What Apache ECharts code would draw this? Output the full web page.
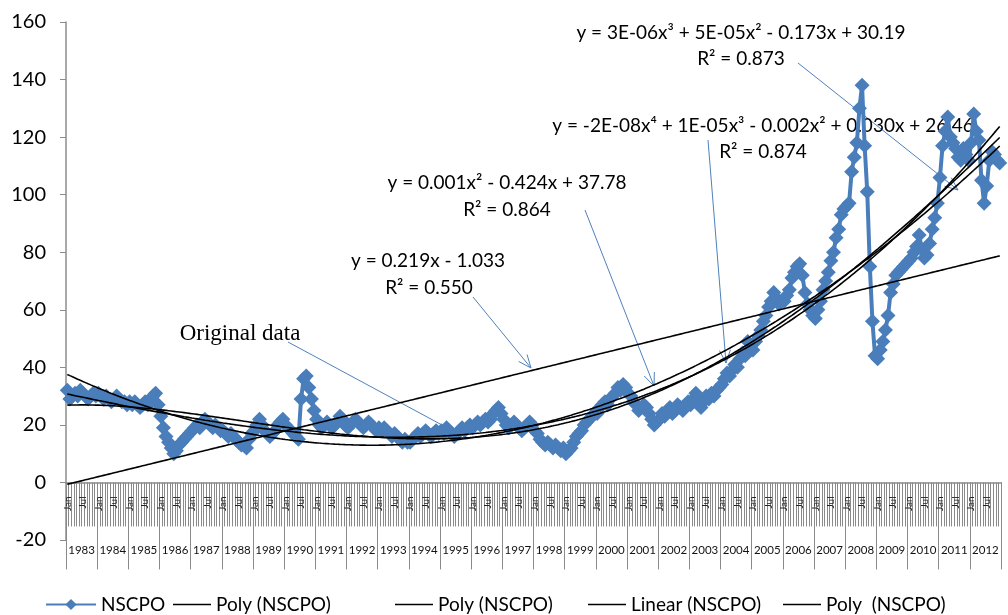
<!DOCTYPE html>
<html>
<head>
<meta charset="utf-8">
<title>NSCPO trend lines</title>
<script src="https://cdn.jsdelivr.net/npm/echarts@6/dist/echarts.min.js"></script>
<style>
  html, body { margin: 0; padding: 0; background: #fff; }
  #chart { width: 1008px; height: 615px; }
</style>
</head>
<body>
<div id="chart"></div>
<script>
// category labels
const years = ['1983', '1984', '1985', '1986', '1987', '1988', '1989', '1990', '1991', '1992',
  '1993', '1994', '1995', '1996', '1997', '1998', '1999', '2000', '2001', '2002',
  '2003', '2004', '2005', '2006', '2007', '2008', '2009', '2010', '2011', '2012']
const monthNames = ['Jan', 'Feb', 'Mar', 'Apr', 'May', 'Jun', 'Jul', 'Aug', 'Sep', 'Oct', 'Nov', 'Dec']

// monthly NSCPO values (Jan..Dec per row)
const nscpo1983to1987 = [
  32, 29, 30, 31, 30, 32, 31, 30, 29, 30, 31, 30,
  31, 30, 29, 30, 29, 28, 29, 30, 29, 28, 28, 27,
  28, 27, 28, 27, 26, 27, 28, 27, 28, 30, 31, 27,
  23, 19, 16, 14, 12, 10, 11, 13, 14, 15, 16, 17,
  18, 19, 20, 19, 21, 22, 21, 20, 19, 20, 19, 18
]
const nscpo1988to1992 = [
  18, 17, 16, 17, 16, 15, 14, 13, 13, 12, 15, 17,
  18, 20, 22, 20, 18, 17, 16, 17, 18, 20, 21, 22,
  20, 19, 18, 17, 16, 15, 29, 36, 37, 33, 29, 25,
  22, 20, 19, 20, 21, 20, 19, 20, 21, 23, 22, 20,
  19, 20, 21, 22, 21, 20, 19, 20, 21, 20, 19, 18
]
const nscpo1993to1997 = [
  19, 18, 19, 18, 17, 16, 17, 16, 15, 14, 15, 14,
  14, 15, 16, 17, 16, 17, 18, 17, 16, 17, 18, 17,
  18, 17, 19, 18, 17, 16, 17, 18, 19, 18, 19, 20,
  19, 20, 21, 20, 21, 22, 21, 22, 24, 25, 26, 24,
  22, 20, 19, 20, 21, 20, 19, 18, 19, 20, 21, 20
]
const nscpo1998to2002 = [
  18, 17, 15, 14, 13, 14, 13, 12, 13, 12, 11, 12,
  10, 11, 12, 14, 16, 17, 18, 20, 21, 22, 23, 24,
  24, 26, 27, 28, 27, 29, 30, 31, 33, 32, 34, 33,
  31, 30, 28, 27, 25, 26, 27, 26, 24, 22, 20, 21,
  22, 24, 23, 25, 26, 24, 25, 27, 26, 25, 27, 28
]
const nscpo2003to2007 = [
  27, 29, 31, 28, 26, 28, 30, 29, 31, 30, 32, 33,
  34, 36, 38, 37, 39, 41, 40, 43, 45, 44, 49, 46,
  46, 49, 51, 53, 56, 58, 61, 63, 66, 64, 62, 63,
  63, 65, 67, 71, 73, 75, 76, 72, 66, 62, 60, 58,
  57, 60, 63, 67, 70, 73, 77, 80, 85, 88, 93, 95
]
const nscpo2008to2012 = [
  96, 97, 108, 113, 118, 130, 138, 117, 101, 75, 56, 44,
  43, 46, 49, 53, 58, 66, 69, 72, 73, 74, 75, 76,
  77, 78, 80, 82, 86, 81, 78, 79, 83, 88, 92, 97,
  106, 117, 122, 127, 120, 118, 116, 113, 112, 116, 114, 112,
  118, 128, 122, 119, 105, 97, 103, 112, 115, 114, 112, 111
]

const categories = []
years.forEach(y => monthNames.forEach(m => categories.push(m + ' ' + y)))
const nscpo = [].concat(nscpo1983to1987, nscpo1988to1992, nscpo1993to1997,
  nscpo1998to2002, nscpo2003to2007, nscpo2008to2012)

// least squares polynomial trend line, x = 1..n like the spreadsheet does
function polyTrend(values, degree) {
  const n = values.length
  const m = degree + 1
  const A = Array.from({ length: m }, () => new Array(m + 1).fill(0))
  for (let i = 0; i < n; i++) {
    const t = (i + 1) / n
    const pw = [1]
    for (let k = 1; k < 2 * m; k++) pw.push(pw[k - 1] * t)
    for (let r = 0; r < m; r++) {
      for (let c = 0; c < m; c++) A[r][c] += pw[r + c]
      A[r][m] += pw[r] * values[i]
    }
  }
  for (let col = 0; col < m; col++) {
    let piv = col
    for (let r = col + 1; r < m; r++) {
      if (Math.abs(A[r][col]) > Math.abs(A[piv][col])) piv = r
    }
    const tmp = A[col]; A[col] = A[piv]; A[piv] = tmp
    for (let r = 0; r < m; r++) {
      if (r === col) continue
      const f = A[r][col] / A[col][col]
      for (let c = col; c <= m; c++) A[r][c] -= f * A[col][c]
    }
  }
  const coef = A.map((row, r) => row[m] / row[r])
  return values.map((v, i) => {
    const t = (i + 1) / n
    let y = 0
    for (let k = m - 1; k >= 0; k--) y = y * t + coef[k]
    return +y.toFixed(3)
  })
}

const blue = '#4A7EBB'
const arrowBlue = '#4F81BD'
const sans = 'Lato, "Noto Sans", sans-serif'

const yMin = -20
const yMax = 160
const yStep = 20
const gridTop = 22
const gridBottom = 75
const plotHeight = 615 - gridTop - gridBottom
// the category axes sit on the zero line, like the spreadsheet axis crossing
const zeroOffset = -plotHeight * (0 - yMin) / (yMax - yMin)

// annotation arrows
function arrow(x1, y1, x2, y2, head) {
  const els = [{
    type: 'line', silent: true,
    shape: { x1: x1, y1: y1, x2: x2, y2: y2 },
    style: { stroke: arrowBlue, lineWidth: 1 }
  }]
  if (head) {
    const a = Math.atan2(y2 - y1, x2 - x1)
    const len = 14, spread = 0.4
    els.push({
      type: 'polyline', silent: true,
      shape: {
        points: [
          [x2 - len * Math.cos(a - spread), y2 - len * Math.sin(a - spread)],
          [x2, y2],
          [x2 - len * Math.cos(a + spread), y2 - len * Math.sin(a + spread)]
        ]
      },
      style: { stroke: arrowBlue, fill: null, lineWidth: 1 }
    })
  }
  return els
}

function label(x, y, text, font) {
  return {
    type: 'text', silent: true, x: x, y: y,
    style: {
      text: text, font: font || ('19px ' + sans), fill: '#000',
      textAlign: 'center', textVerticalAlign: 'middle'
    }
  }
}

const chart = echarts.init(document.getElementById('chart'))

const trendLine = (name, data) => ({
  name: name,
  type: 'line',
  data: data,
  showSymbol: false,
  symbol: 'none',
  smooth: false,
  lineStyle: { color: '#000', width: 1.6 },
  itemStyle: { color: '#000' },
  z: 3
})

const legendItem = (name, left, isTrend) => ({
  data: [name],
  left: left,
  top: 590,
  icon: isTrend ? 'rect' : undefined,
  itemWidth: isTrend ? 38 : 50,
  itemHeight: isTrend ? 1.6 : 14,
  itemGap: 0,
  textStyle: { fontFamily: sans, fontSize: 19, color: '#000' },
  selectedMode: false
})

chart.setOption({
  animation: false,
  backgroundColor: '#fff',
  grid: { left: 66, right: 7, top: gridTop, bottom: gridBottom, containLabel: false, outerBoundsMode: 'none' },
  legend: [
    legendItem('NSCPO', 40, false),
    legendItem('Poly (NSCPO)', 168, true),
    legendItem('Poly (NSCPO) ', 390, true),
    legendItem('Linear (NSCPO)', 583, true),
    legendItem('Poly  (NSCPO)', 778, true)
  ],
  xAxis: [
    {
      type: 'category',
      position: 'bottom',
      offset: zeroOffset,
      data: categories,
      boundaryGap: true,
      axisLine: { onZero: false, lineStyle: { color: '#8c8c8c', width: 1.5 } },
      axisTick: { show: true, interval: 0, length: 44, lineStyle: { color: '#8a8a8a', width: 1 } },
      axisLabel: {
        interval: idx => idx % 6 === 0,
        formatter: v => v.split(' ')[0],
        rotate: 90,
        margin: 14,
        fontFamily: sans,
        fontSize: 10,
        color: '#222'
      },
      splitLine: { show: false }
    },
    {
      type: 'category',
      position: 'bottom',
      offset: zeroOffset,
      data: years,
      boundaryGap: true,
      axisLine: { show: false, onZero: false },
      axisTick: { show: true, interval: 0, length: 87, lineStyle: { color: '#8a8a8a', width: 1 } },
      axisLabel: { interval: 0, margin: 62, fontFamily: sans, fontSize: 11.5, color: '#111' },
      splitLine: { show: false }
    }
  ],
  yAxis: {
    type: 'value',
    min: yMin,
    max: yMax,
    interval: yStep,
    axisLine: { show: true, lineStyle: { color: '#8c8c8c', width: 1.5 } },
    axisTick: { show: true, length: 6, lineStyle: { color: '#8c8c8c' } },
    axisLabel: { margin: 20, fontFamily: sans, fontSize: 20, color: '#000' },
    splitLine: { show: false }
  },
  series: [
    {
      name: 'NSCPO',
      type: 'line',
      xAxisIndex: 0,
      data: nscpo,
      symbol: 'diamond',
      symbolSize: 15,
      showAllSymbol: true,
      lineStyle: { color: blue, width: 4 },
      itemStyle: { color: blue },
      z: 2
    },
    trendLine('Poly (NSCPO)', polyTrend(nscpo, 2)),
    trendLine('Poly (NSCPO) ', polyTrend(nscpo, 3)),
    trendLine('Linear (NSCPO)', polyTrend(nscpo, 1)),
    trendLine('Poly  (NSCPO)', polyTrend(nscpo, 4))
  ],
  graphic: [].concat(
    label(741, 33, 'y = 3E-06x³ + 5E-05x² - 0.173x + 30.19'),
    label(741, 59, 'R² = 0.873'),
    arrow(798, 63, 958, 190, true),
    label(763, 126, 'y = -2E-08x⁴ + 1E-05x³ - 0.002x² + 0.030x + 26.46'),
    label(763, 152, 'R² = 0.874'),
    arrow(708, 140, 726, 363, true),
    label(507, 183, 'y = 0.001x² - 0.424x + 37.78'),
    label(507, 210, 'R² = 0.864'),
    arrow(585, 210, 654, 386, true),
    label(428, 261, 'y = 0.219x - 1.033'),
    label(429, 288, 'R² = 0.550'),
    arrow(473, 297, 531, 368, true),
    label(240, 334, 'Original data', '23px "Liberation Serif", "Times New Roman", serif'),
    arrow(288, 342, 442, 425, false)
  )
})
</script>
</body>
</html>
